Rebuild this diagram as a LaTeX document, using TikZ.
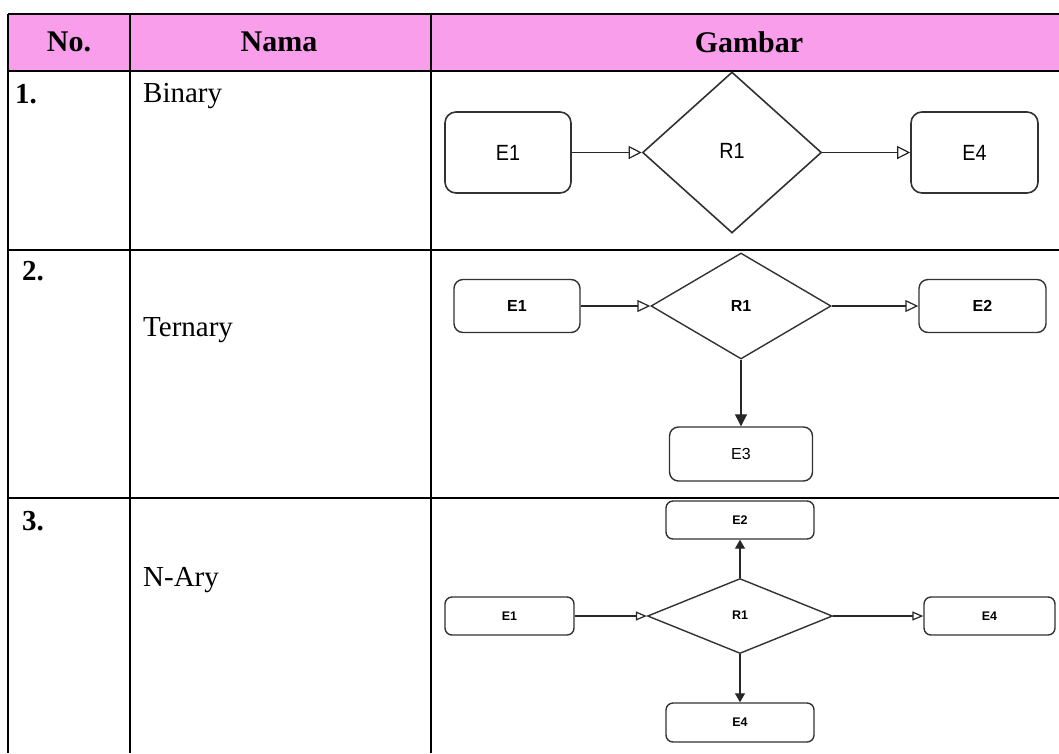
\documentclass[tikz,border=0pt]{standalone}
\usepackage{fontspec}
\setmainfont{Liberation Serif}
\newfontfamily\diagfont{Liberation Sans}
\newfontfamily\diagnarrow[FakeStretch=0.9]{Liberation Sans}
\usetikzlibrary{shapes.geometric,arrows.meta}
\definecolor{hdrpink}{RGB}{249,158,234}
\definecolor{boxgray}{RGB}{50,50,50}
\begin{document}
\begin{tikzpicture}[x=1pt,y=-1pt,
  tline/.style={line width=2pt, draw=black},
  hdrtext/.style={font=\bfseries\fontsize{30}{36}\selectfont, inner sep=0pt},
  numtext/.style={font=\bfseries\fontsize{29}{34}\selectfont, inner sep=0pt, anchor=base west},
  nametext/.style={font=\fontsize{29}{34}\selectfont, inner sep=0pt, anchor=base west},
  entbox/.style={draw=boxgray, line width=1.4pt, inner sep=0pt},
  relbox/.style={diamond, draw=boxgray, line width=1.4pt, inner sep=0pt},
  fa/.style={font=\diagnarrow\fontsize{22}{26}\selectfont},
  fb/.style={font=\diagfont\bfseries\fontsize{16}{19}\selectfont},
  fbr/.style={font=\diagfont\fontsize{16}{19}\selectfont},
  fc/.style={font=\diagfont\bfseries\fontsize{12.5}{15}\selectfont},
  conn/.style={draw=black!85, line width=1.2pt},
  openA/.style={conn, -{Triangle[open, length=13pt, width=13pt]}},
  openB/.style={conn, -{Triangle[open, length=13pt, width=12pt]}},
  openC/.style={conn, -{Triangle[open, length=11pt, width=9pt]}},
  fillB/.style={conn, -{Triangle[length=12pt, width=12pt]}},
  fillC/.style={conn, -{Triangle[length=9pt, width=10pt]}}
]
\useasboundingbox (0,0) rectangle (1059,753);
\fill[white] (0,0) rectangle (1059,753);
% table
\fill[hdrpink] (8,14) rectangle (1059,71);
\draw[tline] (8,14) -- (1059,14);
\draw[line width=1.6pt] (8,71) -- (1059,71);
\draw[tline] (8,250) -- (1059,250);
\draw[tline] (8,498) -- (1059,498);
\draw[tline] (8,14) -- (8,753);
\draw[tline] (130,14) -- (130,753);
\draw[tline] (431,14) -- (431,753);
% header
\node[hdrtext] (hno) at (69,42) {No.};
\node[hdrtext] (hnama) at (279,42) {Nama};
\node[hdrtext] (hgambar) at (749,42) {Gambar};
% row labels
\node[numtext] (n1) at (15,103) {1.};
\node[nametext] (t1) at (143,102) {Binary};
\node[numtext] (n2) at (22,280) {2.};
\node[nametext] (t2) at (143,336) {Ternary};
\node[numtext] (n3) at (22,530) {3.};
\node[nametext] (t3) at (143,586) {N-Ary};
% row 1: binary
\node[entbox, fa, line width=1.6pt, rounded corners=11pt, minimum width=126pt, minimum height=81pt] (a1) at (508,152.5) {E1};
\node[relbox, fa, line width=1.6pt, minimum width=179pt, minimum height=161pt] (ar) at (732,152.5) {\raisebox{3pt}{R1}};
\node[entbox, fa, line width=1.6pt, rounded corners=11pt, minimum width=127pt, minimum height=81pt] (a4) at (974.5,152.5) {E4};
\draw[openA] (a1.east) -- (ar.west);
\draw[openA] (ar.east) -- (a4.west);
% row 2: ternary
\node[entbox, fb, rounded corners=9pt, minimum width=126pt, minimum height=53pt] (b1) at (517,306) {E1};
\node[relbox, fb, minimum width=180pt, minimum height=106pt] (br) at (741,306) {R1};
\node[entbox, fb, rounded corners=9pt, minimum width=127pt, minimum height=53pt] (b2) at (982.5,306) {E2};
\node[entbox, fbr, rounded corners=9pt, minimum width=143pt, minimum height=54pt] (b3) at (741,454) {E3};
\draw[openB] (b1.east) -- (br.west);
\draw[openB] (br.east) -- (b2.west);
\draw[fillB] (br.south) -- (b3.north);
% row 3: n-ary
\node[entbox, fc, rounded corners=7pt, minimum width=148pt, minimum height=38pt] (c2) at (740,520) {E2};
\node[entbox, fc, rounded corners=7pt, minimum width=129pt, minimum height=38pt] (c1) at (509.5,616) {E1};
\node[relbox, fc, minimum width=185pt, minimum height=75pt] (cr) at (740,616) {\raisebox{2pt}{R1}};
\node[entbox, fc, rounded corners=7pt, minimum width=131pt, minimum height=38pt] (c4) at (989.5,616) {E4};
\node[entbox, fc, rounded corners=7pt, minimum width=148pt, minimum height=39pt] (c5) at (740,722.5) {E4};
\draw[openC] (c1.east) -- (cr.west);
\draw[openC] (cr.east) -- (c4.west);
\draw[fillC] (cr.north) -- (c2.south);
\draw[fillC] (cr.south) -- (c5.north);
\end{tikzpicture}
\end{document}
